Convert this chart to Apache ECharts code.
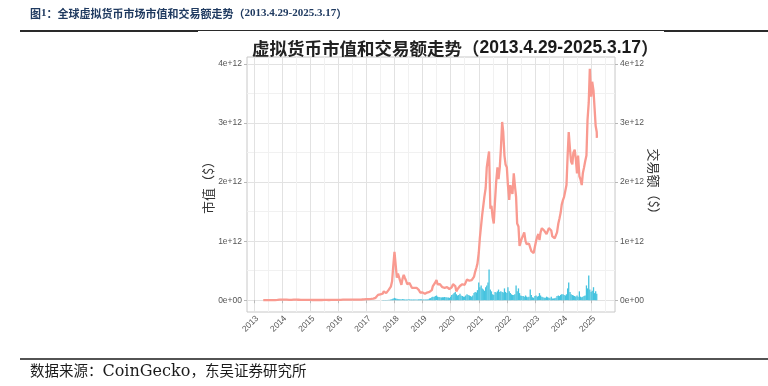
<!DOCTYPE html>
<html><head><meta charset="utf-8">
<script src="https://cdn.jsdelivr.net/npm/echarts@6/dist/echarts.min.js"></script>
<style>html,body{margin:0;padding:0;background:#fff}#c{width:768px;height:386px}</style>
</head><body><div id="c"></div>
<script>
// ---- data (values in units of 1e12 USD) ----
// Market cap, monthly (1st of month) from 2013-05 to 2016-12
const capEarlyStart = [2013, 5];
const capEarly = [
  0.0015, 0.0013, 0.0011, 0.0013, 0.0015, 0.0022, 0.006, 0.011,
  0.011, 0.009, 0.008, 0.0065, 0.006, 0.008, 0.008, 0.0075, 0.006, 0.005, 0.0052, 0.0045,
  0.0038, 0.0032, 0.0035, 0.0033, 0.0033, 0.0034, 0.0042, 0.0041, 0.0035, 0.0039, 0.0048, 0.0062,
  0.0070, 0.0068, 0.0090, 0.0080, 0.0085, 0.0110, 0.0108, 0.0100, 0.0100, 0.0105, 0.0115, 0.0130
];
// Market cap, semi-monthly (1st and 15th) from 2017-01 to 2025-03
const capSemiStart = [2017, 1];
const capSemi = [
  0.018, 0.016, 0.017, 0.019, 0.021, 0.024, 0.026, 0.030, 0.040, 0.060, 0.090, 0.100,
  0.100, 0.085, 0.110, 0.150, 0.170, 0.120, 0.150, 0.170, 0.190, 0.230, 0.320, 0.560,
  0.820, 0.620, 0.380, 0.450, 0.450, 0.330, 0.260, 0.360, 0.430, 0.380, 0.330, 0.270,
  0.260, 0.290, 0.270, 0.210, 0.220, 0.210, 0.210, 0.210, 0.210, 0.170, 0.130, 0.110,
  0.130, 0.120, 0.110, 0.120, 0.130, 0.135, 0.140, 0.170, 0.170, 0.240, 0.260, 0.300,
  0.340, 0.270, 0.280, 0.270, 0.260, 0.220, 0.220, 0.210, 0.240, 0.220, 0.200, 0.190,
  0.190, 0.220, 0.270, 0.290, 0.240, 0.150, 0.190, 0.200, 0.240, 0.250, 0.270, 0.260,
  0.260, 0.280, 0.350, 0.360, 0.330, 0.340, 0.340, 0.370, 0.400, 0.480, 0.550, 0.620,
  0.800, 1.050, 1.050, 1.450, 1.600, 1.750, 1.900, 2.250, 2.400, 2.520, 1.550, 1.600,
  1.400, 1.300, 1.700, 2.000, 2.250, 2.050, 2.250, 2.550, 3.020, 2.850, 2.450, 2.300,
  2.250, 1.950, 1.700, 1.950, 1.850, 1.800, 2.150, 1.950, 1.750, 1.300, 1.250, 0.920,
  0.950, 1.050, 1.100, 1.150, 1.000, 0.950, 0.920, 0.960, 0.980, 0.830, 0.850, 0.800,
  0.800, 1.000, 1.080, 1.120, 1.020, 1.150, 1.220, 1.250, 1.180, 1.150, 1.120, 1.150,
  1.220, 1.200, 1.180, 1.080, 1.050, 1.050, 1.080, 1.150, 1.300, 1.380, 1.480, 1.620,
  1.700, 1.750, 1.750, 1.950, 2.450, 2.850, 2.550, 2.350, 2.300, 2.500, 2.550, 2.400,
  2.150, 2.450, 2.100, 2.050, 1.950, 2.150, 2.250, 2.350, 2.450, 3.050, 3.350, 3.920,
  3.450, 3.700, 3.550, 3.250, 2.950, 2.850
];
const capLastDate = [2025, 3, 17];
const capLast = 2.75;
// Trading volume, semi-monthly from 2017-08 to 2025-03
const volStart = [2017, 8];
const vol = [
  0.003, 0.004, 0.005, 0.004, 0.004, 0.006, 0.008, 0.012, 0.020, 0.030,
  0.040, 0.030, 0.025, 0.020, 0.018, 0.015, 0.012, 0.018, 0.015, 0.013, 0.012, 0.011,
  0.013, 0.014, 0.013, 0.012, 0.012, 0.012, 0.011, 0.010, 0.012, 0.018, 0.016, 0.015,
  0.010, 0.010, 0.012, 0.012, 0.013, 0.014, 0.030, 0.035, 0.050, 0.060, 0.055, 0.070,
  0.080, 0.060, 0.055, 0.050, 0.045, 0.050, 0.050, 0.055, 0.050, 0.045, 0.045, 0.040,
  0.06, 0.09, 0.10, 0.12, 0.14, 0.10, 0.08, 0.09, 0.11, 0.08, 0.07, 0.06,
  0.06, 0.08, 0.10, 0.09, 0.08, 0.07, 0.06, 0.08, 0.12, 0.14, 0.13, 0.17,
  0.30, 0.22, 0.25, 0.20, 0.18, 0.16, 0.22, 0.25, 0.30, 0.52, 0.18, 0.15,
  0.10, 0.09, 0.14, 0.13, 0.15, 0.18, 0.14, 0.15, 0.14, 0.13, 0.20, 0.14,
  0.12, 0.22, 0.15, 0.12, 0.10, 0.09, 0.09, 0.10, 0.25, 0.15, 0.20, 0.12,
  0.08, 0.07, 0.07, 0.06, 0.08, 0.06, 0.05, 0.06, 0.18, 0.09, 0.05, 0.04,
  0.07, 0.08, 0.06, 0.07, 0.12, 0.08, 0.06, 0.05, 0.04, 0.04, 0.06, 0.05,
  0.04, 0.035, 0.06, 0.03, 0.03, 0.035, 0.04, 0.07, 0.08, 0.07, 0.09, 0.10,
  0.10, 0.09, 0.08, 0.10, 0.20, 0.30, 0.14, 0.10, 0.09, 0.08, 0.07, 0.06,
  0.08, 0.06, 0.15, 0.06, 0.05, 0.06, 0.07, 0.08, 0.25, 0.20, 0.42, 0.18,
  0.14, 0.16, 0.22, 0.12, 0.15, 0.11
];
const yearTicks = [2013, 2014, 2015, 2016, 2017, 2018, 2019, 2020, 2021, 2022, 2023, 2024, 2025];
const valueTicks = [0, 1, 2, 3, 4];

// ---- helpers ----
function decYear(y, m, d) {
  const s = Date.UTC(y, 0, 1), e = Date.UTC(y + 1, 0, 1);
  return y + (Date.UTC(y, m - 1, d) - s) / (e - s);
}
function monthlyX(start, i) {
  const k = start[1] - 1 + i;
  return decYear(start[0] + Math.floor(k / 12), (k % 12) + 1, 1);
}
function semiX(start, i) {
  const k = start[1] - 1 + Math.floor(i / 2);
  return decYear(start[0] + Math.floor(k / 12), (k % 12) + 1, i % 2 ? 15 : 1);
}
const capData = [];
capEarly.forEach((v, i) => capData.push([monthlyX(capEarlyStart, i), v]));
capSemi.forEach((v, i) => capData.push([semiX(capSemiStart, i), v]));
capData.push([decYear(capLastDate[0], capLastDate[1], capLastDate[2]), capLast]);
const volData = vol.map((v, i) => [semiX(volStart, i), v]);

const X_MIN = 2012.75, X_MAX = 2025.85, Y_MIN = -0.2, Y_MAX = 4.12;
const MAJOR = '#e2e2e2', MINOR = '#f1f1f1', T = 'rgba(0,0,0,0)';
const labelStyle = { fontSize: 8.5, color: '#555', fontFamily: 'Liberation Sans' };
const nameStyle = { fontSize: 13, color: '#333', fontFamily: 'Noto Sans CJK SC' };
const yFmt = v => (v === 0 ? '0e+00' : v + 'e+12');

const chart = echarts.init(document.getElementById('c'), null, { renderer: 'canvas' });
chart.setOption({
  animation: false,
  backgroundColor: '#fff',
  title: {
    text: '{a|虚拟货币市值和交易额走势（}{b|2013.4.29-2025.3.17}{a|）}',
    left: 247, top: 34,
    textStyle: {
      rich: {
        a: { fontSize: 17.5, fontFamily: 'Noto Sans CJK SC', color: '#222' },
        b: { fontSize: 17.5, fontFamily: 'Liberation Sans', fontWeight: 'bold', color: '#1a1a1a' }
      }
    }
  },
  grid: { left: 247, top: 57, width: 368, height: 255, show: true, borderColor: '#c8c8c8', borderWidth: 1 },
  xAxis: [
    { type: 'value', min: X_MIN, max: X_MAX, interval: 0.25,
      axisLine: { show: false }, axisTick: { show: false }, axisLabel: { show: false },
      splitLine: { show: true, lineStyle: { width: 1, color: [T, MAJOR, T, MINOR] } } },
    { type: 'value', min: X_MIN, max: X_MAX, position: 'bottom',
      axisLine: { show: false }, splitLine: { show: false },
      axisTick: { show: true, customValues: yearTicks, length: 3, lineStyle: { color: '#b8b8b8' } },
      axisLabel: Object.assign({ customValues: yearTicks, rotate: 45, align: 'right', verticalAlign: 'top',
        margin: 2, formatter: v => String(v) }, labelStyle) }
  ],
  yAxis: [
    { type: 'value', min: Y_MIN, max: Y_MAX, interval: 0.1,
      axisLine: { show: false }, axisTick: { show: false }, axisLabel: { show: false },
      splitLine: { show: true, lineStyle: { width: 1, color: [T, T, MAJOR, T, T, T, T, MINOR, T, T] } } },
    { type: 'value', min: Y_MIN, max: Y_MAX, position: 'left',
      axisLine: { show: false }, splitLine: { show: false },
      axisTick: { show: true, customValues: valueTicks, length: 3, lineStyle: { color: '#b8b8b8' } },
      axisLabel: Object.assign({ customValues: valueTicks, margin: 5, formatter: yFmt }, labelStyle),
      name: '市值（$）', nameLocation: 'middle', nameGap: 31, nameTextStyle: nameStyle },
    { type: 'value', min: Y_MIN, max: Y_MAX, position: 'right',
      axisLine: { show: false }, splitLine: { show: false },
      axisTick: { show: true, customValues: valueTicks, length: 3, lineStyle: { color: '#b8b8b8' } },
      axisLabel: Object.assign({ customValues: valueTicks, margin: 5, formatter: yFmt }, labelStyle),
      name: '交易额（$）', nameLocation: 'middle', nameGap: 31, nameRotate: -90, nameTextStyle: nameStyle }
  ],
  series: [
    { type: 'bar', xAxisIndex: 0, yAxisIndex: 0, data: volData, barWidth: 1.3,
      itemStyle: { color: '#45C3DF' }, silent: true, z: 2 },
    { type: 'line', xAxisIndex: 0, yAxisIndex: 0, data: capData, showSymbol: false,
      lineStyle: { color: '#F99A90', width: 2.3 }, silent: true, z: 3 }
  ],
  graphic: [
    { type: 'text', left: 30, top: 8, style: {
        text: '{a|图}{n|1}{a|：全球虚拟货币市场市值和交易额走势（}{n|2013.4.29-2025.3.17}{a|）}',
        rich: {
          a: { fontSize: 11, fontWeight: 'bold', fontFamily: 'Noto Sans CJK SC', fill: '#1f3a60' },
          n: { fontSize: 11, fontWeight: 'bold', fontFamily: 'Liberation Serif', fill: '#1f3a60' }
        } } },
    { type: 'line', shape: { x1: 20, y1: 31, x2: 198, y2: 31 }, style: { stroke: '#2a2a2a', lineWidth: 2 } },
    { type: 'line', shape: { x1: 198, y1: 30.5, x2: 664, y2: 30.5 }, style: { stroke: '#2a2a2a', lineWidth: 1 } },
    { type: 'line', shape: { x1: 664, y1: 31, x2: 768, y2: 31 }, style: { stroke: '#2a2a2a', lineWidth: 2 } },
    { type: 'line', shape: { x1: 20, y1: 359, x2: 768, y2: 359 }, style: { stroke: '#1a1a1a', lineWidth: 1.5 } },
    { type: 'text', left: 30, top: 364, style: {
        text: '{a|数据来源：}{c|CoinGecko}{a|，东吴证券研究所}',
        rich: {
          a: { fontSize: 14.5, fontFamily: 'Liberation Serif, Noto Sans CJK SC', fill: '#1a1a1a' },
          c: { fontSize: 16, fontFamily: 'DejaVu Serif', fill: '#1a1a1a', width: 88, align: 'left' }
        } } }
  ]
});
</script>
</body></html>
